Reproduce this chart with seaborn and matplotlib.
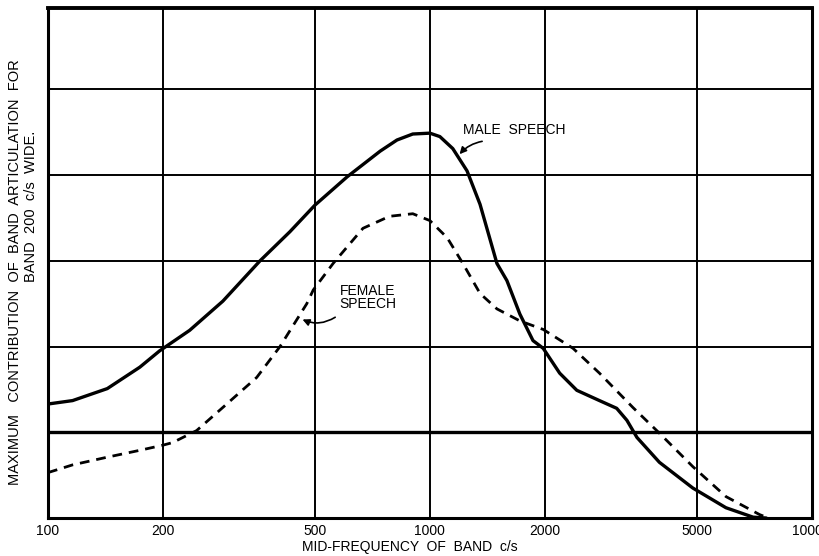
import matplotlib
matplotlib.use('Agg')
import matplotlib.pyplot as plt
import seaborn as sns
import pandas as pd

# ── Data ──────────────────────────────────────────────────────────────────────
male_freq = [100, 116, 143, 174, 196, 235, 287, 359, 430, 500, 607, 741, 820, 902,
             1000, 1062, 1148, 1251, 1353, 1498, 1591, 1720, 1862, 1980, 2187,
             2425, 2780, 3084, 3280, 3485, 3990, 4880, 5960, 7020, 7600]
male_val = [1.33, 1.37, 1.51, 1.76, 1.95, 2.19, 2.53, 3.00, 3.34, 3.65, 3.98, 4.28, 4.41, 4.48,
            4.49, 4.45, 4.31, 4.05, 3.66, 2.97, 2.77, 2.38, 2.07, 1.98, 1.69,
            1.49, 1.37, 1.28, 1.14, 0.94, 0.65, 0.35, 0.12, 0.01, 0.0]

female_freq = [100, 116, 143, 174, 200, 212, 245, 287, 352, 405, 476, 495, 558, 668, 784,
               902, 1000, 1110, 1220, 1353, 1498, 1720, 1980, 2370, 2780, 3400,
               3990, 4880, 5960, 7300, 7700]
female_val = [0.53, 0.62, 0.71, 0.79, 0.85, 0.88, 1.02, 1.29, 1.64, 2.00, 2.50, 2.66, 2.97, 3.38, 3.52,
              3.55, 3.47, 3.27, 2.97, 2.62, 2.44, 2.30, 2.20, 1.98, 1.69, 1.29,
              0.99, 0.60, 0.25, 0.04, 0.0]

x_ticks = [100, 200, 500, 1000, 2000, 5000, 10000]
x_tick_labels = ['100', '200', '500', '1000', '2000', '5000', '10000']
y_grid = [1, 2, 3, 4, 5]

male = pd.DataFrame({'freq': male_freq, 'value': male_val})
female = pd.DataFrame({'freq': female_freq, 'value': female_val})

# ── Figure ────────────────────────────────────────────────────────────────────
sns.set_style('white')
plt.rcParams['font.family'] = ['Liberation Sans', 'DejaVu Sans']
plt.rcParams['text.color'] = 'black'
plt.rcParams['xtick.color'] = 'black'

fig = plt.figure(figsize=(8.2, 5.56), dpi=100)
ax = fig.add_axes([0.0585, 0.0683, 0.9315, 0.9173])

sns.lineplot(data=male, x='freq', y='value', ax=ax, color='black',
             linewidth=2.4, sort=False, estimator=None)
sns.lineplot(data=female, x='freq', y='value', ax=ax, color='black',
             linewidth=2.0, linestyle=(0, (3.5, 2.5)), sort=False, estimator=None)

ax.set_xscale('log')
ax.set_xlim(100, 10000)
ax.set_ylim(0, 5.95)

for xv in x_ticks[1:-1]:
    ax.axvline(xv, color='black', linewidth=1.4, zorder=1)
for yv in y_grid:
    ax.axhline(yv, color='black', linewidth=2.4 if yv == 1 else 1.4, zorder=1)

ax.set_xticks(x_ticks)
ax.set_xticklabels(x_tick_labels, fontsize=10)
ax.xaxis.set_minor_locator(matplotlib.ticker.NullLocator())
ax.set_yticks([])
ax.tick_params(axis='x', length=0, pad=4)
for s in ax.spines.values():
    s.set_color('black')
    s.set_linewidth(2.2)
ax.spines['top'].set_linewidth(2.8)

ax.set_xlabel('')
ax.set_ylabel('')
fig.text(0.50, 0.016, 'MID-FREQUENCY  OF  BAND  c/s', ha='center', va='center',
         fontsize=10)

fig.text(0.018, 0.51, 'MAXIMUM   CONTRIBUTION  OF  BAND  ARTICULATION  FOR',
         rotation=90, ha='center', va='center', fontsize=10.5)
fig.text(0.038, 0.628, 'BAND  200  c/s  WIDE.',
         rotation=90, ha='center', va='center', fontsize=10.5)

# ── Labels with arrows ────────────────────────────────────────────────────────
ax.text(1219, 4.53, 'MALE  SPEECH', fontsize=10, ha='left', va='center')
ax.annotate('', xy=(1183, 4.22), xytext=(1393, 4.40),
            arrowprops=dict(arrowstyle='-|>', color='black', lw=1.2,
                            connectionstyle='arc3,rad=0.2', mutation_scale=10))
ax.text(581, 2.57, 'FEMALE\nSPEECH', fontsize=10, ha='left', va='center',
        linespacing=0.9)
ax.annotate('', xy=(457, 2.33), xytext=(573, 2.36),
            arrowprops=dict(arrowstyle='-|>', color='black', lw=1.2,
                            connectionstyle='arc3,rad=-0.3', mutation_scale=10))

fig.savefig('out.png', dpi=100)
